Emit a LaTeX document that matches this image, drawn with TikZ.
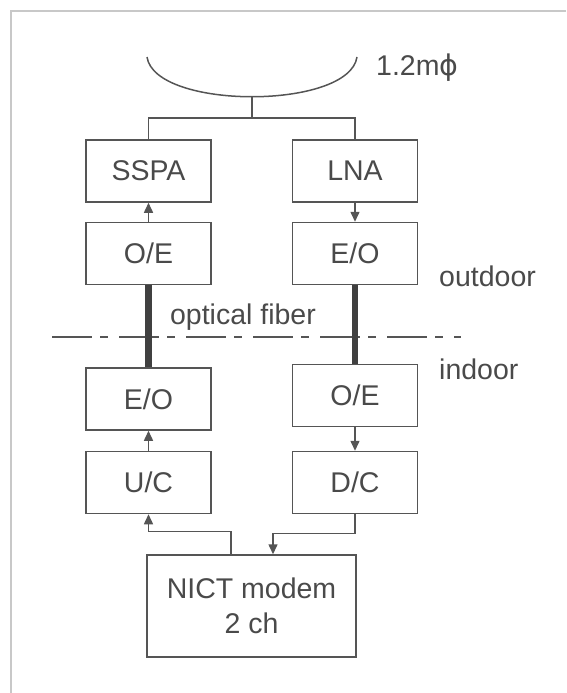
\documentclass[tikz,border=0pt]{standalone}
\usepackage{fontspec}
\setmainfont{Liberation Sans}
\newfontfamily\phifont{DejaVu Sans}
\usetikzlibrary{arrows.meta, positioning, calc}
\definecolor{LineGray}{HTML}{555555}
\definecolor{TextGray}{HTML}{4A4A4A}
\definecolor{FiberGray}{HTML}{404040}
\definecolor{FrameGray}{HTML}{C8C8C8}
\newcommand{\labelfont}{\fontsize{28.5}{35}\selectfont}

\begin{document}
\begin{tikzpicture}[x=1pt, y=-1pt,
    block/.style={draw=LineGray, line width=1.5pt, fill=white, minimum width=125pt, minimum height=62pt, inner sep=0pt, sharp corners, align=center, text=TextGray, font=\labelfont},
    lbl/.style={text=TextGray, font=\labelfont, inner sep=0pt},
    wire/.style={draw=LineGray, line width=1.5pt},
    arr/.style={wire, -{Triangle[length=10pt, width=9pt]}},
    fiber/.style={draw=FiberGray, line width=6.5pt},
    border/.style={draw=LineGray, line width=1.2pt, dash pattern=on 40pt off 8pt on 8pt off 11pt}]

    \useasboundingbox (0,0) rectangle (566,693);

    % Frame
    \draw[FrameGray, line width=1.5pt] (566,11) -- (11,11) -- (11,693);

    % Antenna
    \coordinate (dishL) at (147,57);
    \coordinate (dishR) at (357,57);
    \coordinate (dish) at (252,97);
    \coordinate (feed) at (252,118);
    \draw[wire] (dishL) .. controls (155,110) and (349,110) .. (dishR);
    \node[lbl, anchor=west] (size) at (376,68) {1.2m{\phifont ϕ}};

    % Blocks
    \node[block] (sspa) at (148.5,171) {SSPA};
    \node[block] (lna) at (355,171) {LNA};
    \node[block] (oeout) at (148.5,253.5) {O/E};
    \node[block] (eoout) at (355,253.5) {E/O};
    \node[block] (eoin) at (148.5,399) {E/O};
    \node[block] (oein) at (355,395.5) {O/E};
    \node[block] (uc) at (148.5,482.5) {U/C};
    \node[block] (dc) at (355,482.5) {D/C};
    \node[block, minimum width=209pt, minimum height=102pt] (modem) at (251.5,606) {NICT modem\\2 ch};

    % Labels
    \node[lbl, anchor=west] (outdoor) at (439,276) {outdoor};
    \node[lbl, anchor=west] (indoor) at (439,369) {indoor};
    \node[lbl] (fibertext) at (243,317) {optical fiber};

    % Indoor / outdoor border
    \coordinate (sepL) at (52,337);
    \coordinate (sepR) at (461,337);
    \draw[border] (sepL) -- (sepR);

    % Connectors
    \draw[wire] (dish) -- (feed);
    \draw[wire] (sspa.north) |- (feed) -| (lna.north);
    \draw[arr] (oeout) -- (sspa);
    \draw[arr] (lna) -- (eoout);
    \draw[fiber] (oeout.south) -- (eoin.north);
    \draw[fiber] (eoout.south) -- (oein.north);
    \draw[arr] (uc) -- (eoin);
    \draw[arr] (oein) -- (dc);
    \draw[arr] ([xshift=-20.5pt]modem.north) -- ++(0,-23) -| (uc.south);
    \draw[arr] (dc.south) -- ++(0,19) -| ([xshift=21.5pt]modem.north);
\end{tikzpicture}
\end{document}
